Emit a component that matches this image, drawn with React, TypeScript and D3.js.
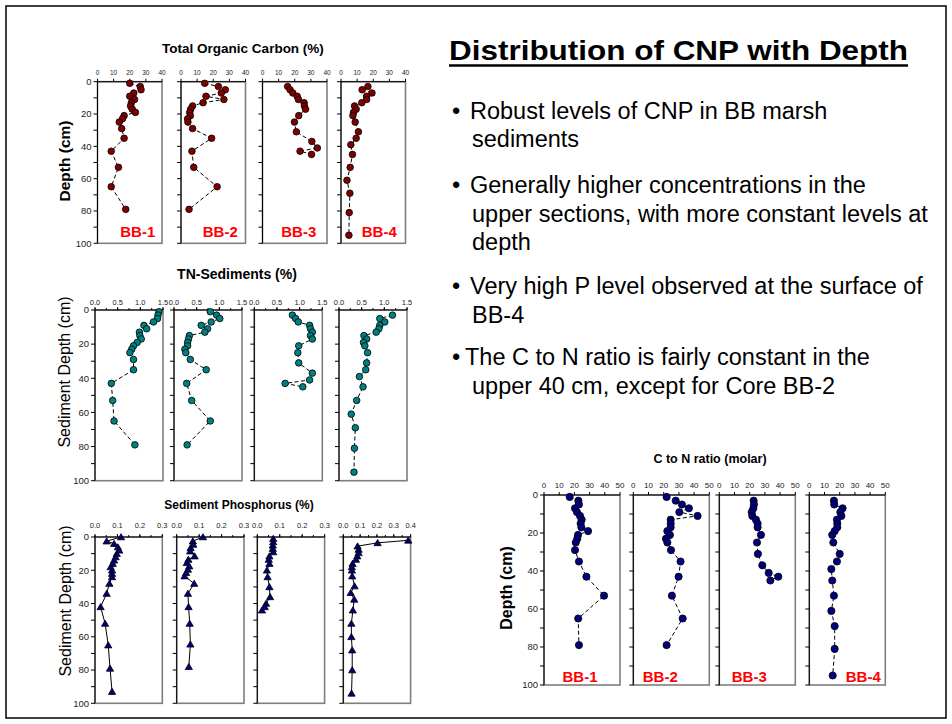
import React from "react";
import * as d3 from "d3";

const font = "'Liberation Sans', Arial, Helvetica, sans-serif";
const cores = ["BB-1", "BB-2", "BB-3", "BB-4"];

// depth intervals (cm) sampled in each core
const depthA = [1, 3, 5, 7, 9, 11, 13, 15, 17, 19, 21, 23, 25, 29, 35, 43, 53, 65, 79];
const depthB = [3, 5, 7, 9, 11, 13, 15, 17, 21, 25, 31, 37, 41, 43, 45];
const depthC = [3, 5, 7, 9, 11, 13, 15, 17, 19, 21, 25, 31, 35, 39, 45, 53, 61, 69, 81, 95];

// Total organic carbon (%)
const tocBB1 = [20, 26.5, 27, 22.5, 20, 23, 21, 20.5, 21.5, 23.5, 16.5, 15.5, 13.5, 15, 16.5, 8.5, 13, 8.5, 17.5];
const tocBB2 = [14.7, 23.2, 27.5, 25, 15.5, 26.6, 13.7, 7.2, 6, 5.4, 5.8, 4.1, 4.3, 7.2, 19, 6.8, 7.9, 22.4, 5];
const tocBB3 = [15.6, 17.1, 18.8, 21.5, 22.3, 25.8, 26, 26.7, 22.5, 19.8, 21, 30.6, 34, 23.3, 30.4];
const tocBB4 = [16.7, 13.1, 19.2, 15.9, 15.9, 12.9, 8.4, 9.4, 7.8, 7.4, 8.8, 10.8, 9.4, 6.1, 7.1, 5.7, 3.7, 5.5, 5.1, 4.9];

// TN in sediments (%)
const tnBB1 = [1.41, 1.39, 1.38, 1.29, 1.08, 1.14, 0.98, 0.99, 1.02, 0.93, 0.85, 0.81, 0.77, 0.85, 0.85, 0.36, 0.39, 0.42, 0.88];
const tnBB2 = [0.8, 0.94, 1.01, 0.82, 0.6, 0.74, 0.68, 0.34, 0.32, 0.3, 0.3, 0.24, 0.26, 0.36, 0.71, 0.28, 0.39, 0.8, 0.29];
const tnBB3 = [0.84, 0.91, 0.97, 1.22, 1.24, 1.28, 1.24, 1.28, 0.98, 0.96, 0.98, 1.28, 1.22, 0.68, 1.07];
const tnBB4 = [1.18, 0.9, 1.01, 0.9, 0.88, 0.82, 0.55, 0.61, 0.54, 0.57, 0.63, 0.61, 0.59, 0.45, 0.53, 0.39, 0.27, 0.36, 0.34, 0.33];

// Sediment phosphorus (%) - own depth lists
const pDepth1 = [0, 2.5, 4, 6, 8, 10, 12, 14, 16, 18, 20, 22, 24, 28, 34, 42, 52, 65, 79, 93];
const pBB1 = [0.116, 0.052, 0.085, 0.102, 0.108, 0.097, 0.092, 0.085, 0.079, 0.07, 0.076, 0.076, 0.076, 0.064, 0.052, 0.025, 0.045, 0.059, 0.067, 0.076];
const pDepth2 = [0, 2.5, 4.5, 6.5, 8.5, 11.5, 13.5, 15.5, 17.5, 19.5, 21.5, 23.5, 28, 34, 42, 52, 64.5, 78];
const pBB2 = [0.117, 0.072, 0.074, 0.062, 0.06, 0.08, 0.052, 0.045, 0.056, 0.05, 0.042, 0.035, 0.078, 0.05, 0.053, 0.058, 0.061, 0.054];
const pDepth3 = [1, 3, 5, 7, 9, 11.5, 13.5, 16, 20, 24, 30, 36, 40, 42, 44];
const pBB3 = [0.071, 0.071, 0.069, 0.069, 0.071, 0.054, 0.051, 0.054, 0.043, 0.046, 0.054, 0.057, 0.039, 0.033, 0.021];
const pDepth4 = [2, 3.5, 5.5, 7.5, 9.5, 11.5, 13.5, 16, 18, 20, 23.5, 29.5, 33.5, 37.5, 44, 52, 60, 68, 80, 94];
const pBB4 = [0.386, 0.204, 0.085, 0.091, 0.091, 0.083, 0.075, 0.055, 0.051, 0.051, 0.053, 0.067, 0.044, 0.065, 0.057, 0.048, 0.048, 0.053, 0.053, 0.049];

// C to N ratio (molar)
const cnBB1 = [16.9, 22.6, 23, 20.4, 21.7, 23.7, 24.8, 24.1, 24.6, 29, 22.4, 21.9, 20.9, 20.4, 23, 27.9, 39.5, 22.5, 23];
const cnBB2 = [21.9, 27.9, 32, 36.6, 30.3, 42.3, 24.6, 24.6, 24.6, 22.4, 24.1, 21.5, 22.4, 24.8, 31.1, 29.8, 25.4, 32.5, 21.9];
const cnBB3 = [22.6, 22.8, 22.4, 21.3, 21.7, 24.1, 25.2, 25.2, 27.4, 24.8, 25.4, 28.3, 32.5, 38.8, 33.6];
const cnBB4 = [16.2, 16.4, 21.9, 20.4, 21.1, 18.2, 18.4, 18.4, 16.7, 15.1, 15.8, 20, 18.2, 14.5, 15.1, 16.2, 14.5, 16.7, 16.7, 15.4];

const bullets = [
  ["Robust levels of CNP in BB marsh", "sediments"],
  ["Generally higher concentrations in the", "upper sections, with more constant levels at", "depth"],
  ["Very high P level observed at the surface of", "BB-4"],
  ["The C to N ratio is fairly constant in the", "upper 40 cm, except for Core BB-2"],
];
// first-line baseline of each bullet
const bulletY = [118.5, 193, 294, 365];

type Spec = {
  title: string;
  yTitle: string;
  yBold: boolean;
  depths: number[][];
  values: number[][];
  xMax: number[];
  xStep: number;
  xMinor: number;
  fmt: (v: number) => string;
  marker: "circle" | "triangle";
  fill: string;
  dashed: boolean;
  showCores: boolean;
  // layout
  lefts: number[];
  width: number;
  top: number;
  bottom: number;
  titleX: number;
  titleY: number;
  titleSize: number;
  yTitleX: number;
  yTitleY: number;
  yTitleSize: number;
  xFont: number;
  xGap: number;
  r: number;
  coreDx?: number[];
  coreY?: number;
};

function DepthChart({ s }: { s: Spec }) {
  const y = d3.scaleLinear().domain([0, 100]).range([s.top, s.bottom]);
  const depthTicks = d3.range(0, 101, 10);
  return (
    <g>
      <text x={s.titleX} y={s.titleY} textAnchor="middle" fontWeight="bold" fontSize={s.titleSize}>
        {s.title}
      </text>
      <text
        transform={`translate(${s.yTitleX},${s.yTitleY}) rotate(-90)`}
        textAnchor="middle"
        dy="0.35em"
        fontWeight={s.yBold ? "bold" : "normal"}
        fontSize={s.yTitleSize}
      >
        {s.yTitle}
      </text>
      {s.lefts.map((left, i) => {
        const x = d3.scaleLinear().domain([0, s.xMax[i]]).range([left, left + s.width]);
        const pts = s.depths[i].map((d, k) => [s.values[i][k], d] as [number, number]);
        const line = d3.line<[number, number]>().x((p) => x(p[0])).y((p) => y(p[1]));
        const major = d3.range(0, s.xMax[i] + 1e-9, s.xStep);
        const minor = s.xMinor ? d3.range(0, s.xMax[i] + 1e-9, s.xMinor) : [];
        return (
          <g key={i}>
            <rect x={left} y={s.top} width={s.width} height={s.bottom - s.top} fill="#fff" stroke="#7f7f7f" strokeWidth={1.6} />
            <line x1={left} x2={left} y1={s.top} y2={s.bottom} stroke="#000" />
            <line x1={left} x2={left + s.width} y1={s.top} y2={s.top} stroke="#000" />
            {depthTicks.map((d) => (
              <line key={d} x1={left - 4} x2={left} y1={y(d)} y2={y(d)} stroke="#000" />
            ))}
            {i === 0 &&
              depthTicks
                .filter((d) => d % 20 === 0)
                .map((d) => (
                  <text key={d} x={left - 6} y={y(d)} dy="0.35em" textAnchor="end" fontSize={9.5} fill="#222">
                    {d}
                  </text>
                ))}
            {minor.map((v) => (
              <line key={"m" + v} x1={x(v)} x2={x(v)} y1={s.top - 2} y2={s.top} stroke="#000" />
            ))}
            {major.map((v) => (
              <g key={v}>
                <line x1={x(v)} x2={x(v)} y1={s.top - 3} y2={s.top} stroke="#000" />
                <text x={x(v)} y={s.top - s.xGap} textAnchor="middle" fontSize={s.xFont} fill="#222">
                  {s.fmt(v)}
                </text>
              </g>
            ))}
            <path d={line(pts) || ""} fill="none" stroke="#000" strokeWidth={1} strokeDasharray={s.dashed ? "4,2.5" : undefined} />
            {pts.map((p, k) =>
              s.marker === "circle" ? (
                <circle key={k} cx={x(p[0])} cy={y(p[1])} r={s.r} fill={s.fill} stroke="#000" strokeWidth={0.8} />
              ) : (
                <path
                  key={k}
                  transform={`translate(${x(p[0])},${y(p[1])})`}
                  d={`M0,${-s.r}L${s.r * 1.1},${s.r * 0.85}L${-s.r * 1.1},${s.r * 0.85}Z`}
                  fill={s.fill}
                  stroke="#000"
                  strokeWidth={0.8}
                />
              )
            )}
            {s.showCores && (
              <text
                x={left + s.width / 2 + (s.coreDx ? s.coreDx[i] : 0)}
                y={s.coreY}
                textAnchor="middle"
                fontWeight="bold"
                fontSize={15}
                fill="#ff0000"
              >
                {cores[i]}
              </text>
            )}
          </g>
        );
      })}
    </g>
  );
}

const f0 = (v: number) => String(Math.round(v));
const f1 = d3.format(".1f");

const toc: Spec = {
  title: "Total Organic Carbon (%)", yTitle: "Depth (cm)", yBold: true,
  depths: [depthA, depthA, depthB, depthC], values: [tocBB1, tocBB2, tocBB3, tocBB4],
  xMax: [40, 40, 40, 40], xStep: 10, xMinor: 0, fmt: f0,
  marker: "circle", fill: "#800000", dashed: true, showCores: true,
  lefts: [97.5, 181, 262.5, 341], width: 64.5, top: 81.7, bottom: 243.3,
  titleX: 243, titleY: 52.5, titleSize: 13.5,
  yTitleX: 65, yTitleY: 161, yTitleSize: 15.5,
  xFont: 6.5, xGap: 6.5, r: 3.3, coreDx: [8, 7, 4, 6], coreY: 237,
};

const tn: Spec = {
  title: "TN-Sediments (%)", yTitle: "Sediment Depth (cm)", yBold: false,
  depths: [depthA, depthA, depthB, depthC], values: [tnBB1, tnBB2, tnBB3, tnBB4],
  xMax: [1.5, 1.5, 1.5, 1.5], xStep: 0.5, xMinor: 0.25, fmt: f1,
  marker: "circle", fill: "#008080", dashed: true, showCores: false,
  lefts: [95, 174, 254.3, 339], width: 68, top: 310, bottom: 480.7,
  titleX: 237, titleY: 279, titleSize: 14,
  yTitleX: 64, yTitleY: 372, yTitleSize: 16,
  xFont: 7.5, xGap: 5.5, r: 3.3,
};

const phos: Spec = {
  title: "Sediment Phosphorus (%)", yTitle: "Sediment Depth (cm)", yBold: false,
  depths: [pDepth1, pDepth2, pDepth3, pDepth4], values: [pBB1, pBB2, pBB3, pBB4],
  xMax: [0.3, 0.3, 0.3, 0.4], xStep: 0.1, xMinor: 0.05, fmt: f1,
  marker: "triangle", fill: "#000080", dashed: false, showCores: false,
  lefts: [95, 176.7, 257.3, 343.3], width: 67.3, top: 537, bottom: 703.3,
  titleX: 239, titleY: 509, titleSize: 12,
  yTitleX: 65.5, yTitleY: 601, yTitleSize: 16,
  xFont: 7.5, xGap: 9, r: 3.3,
};

const cn: Spec = {
  title: "C to N ratio (molar)", yTitle: "Depth (cm)", yBold: true,
  depths: [depthA, depthA, depthB, depthC], values: [cnBB1, cnBB2, cnBB3, cnBB4],
  xMax: [50, 50, 50, 50], xStep: 10, xMinor: 0, fmt: f0,
  marker: "circle", fill: "#000080", dashed: true, showCores: true,
  lefts: [544, 633.3, 719.3, 809.3], width: 76, top: 495, bottom: 685,
  titleX: 710, titleY: 463, titleSize: 12.5,
  yTitleX: 506.5, yTitleY: 588, yTitleSize: 16,
  xFont: 8, xGap: 7, r: 3.6, coreDx: [-2, -11, -8, 16], coreY: 682,
};

export default function App() {
  const rows: React.ReactNode[] = [];
  bullets.forEach((lines, bi) => {
    const last = bi === bullets.length - 1;
    lines.forEach((ln, li) => {
      const yy = bulletY[bi] + li * 28.5;
      const x = li === 0 ? (last ? 465 : 470) : 472;
      rows.push(
        <g key={bi + "-" + li}>
          {li === 0 && (
            <text x={452} y={yy} fontSize={23.5}>
              •
            </text>
          )}
          <text x={x} y={yy} fontSize={23.5}>
            {ln}
          </text>
        </g>
      );
    });
  });

  return (
    <svg
      width={952}
      height={724}
      style={{ position: "absolute", left: 0, top: 0, background: "#fff" }}
      fontFamily={font}
    >
      <rect x={6} y={6} width={940} height={712} fill="#fff" stroke="#000" strokeWidth={1.5} />
      <text x={449} y={60} fontSize={28} fontWeight="bold" textLength={459} lengthAdjust="spacingAndGlyphs">
        Distribution of CNP with Depth
      </text>
      <line x1={449} x2={908} y1={65.5} y2={65.5} stroke="#000" strokeWidth={2.5} />
      {rows}
      <DepthChart s={toc} />
      <DepthChart s={tn} />
      <DepthChart s={phos} />
      <DepthChart s={cn} />
    </svg>
  );
}
